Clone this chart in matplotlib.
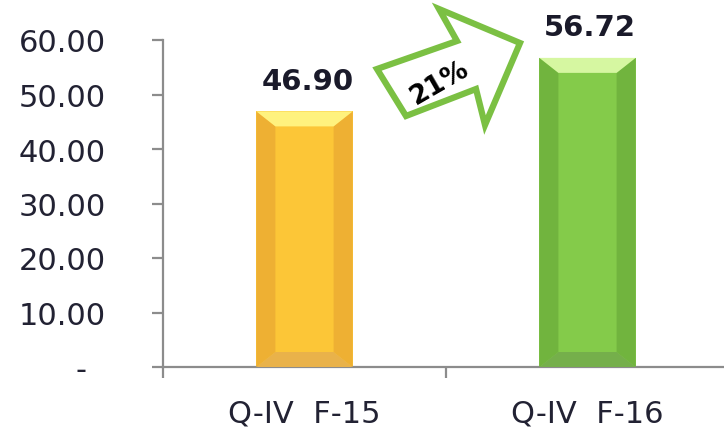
import matplotlib.pyplot as plt
from matplotlib.patches import Polygon

categories = ['Q-IV  F-15', 'Q-IV  F-16']
values = [46.90, 56.72]
value_labels = ['46.90', '56.72']
growth_label = '21%'
yticks = [0, 10, 20, 30, 40, 50, 60]
ytick_labels = ['-  ', '10.00', '20.00', '30.00', '40.00', '50.00', '60.00']

# center, side, top, bottom shades for each bar
bar_colors = [
    ('#fcc637', '#eeb033', '#fff27e', '#e9b24a'),
    ('#84cb4a', '#71b43e', '#d6f7a1', '#75af4b'),
]

W, H = 724, 431
fig = plt.figure(figsize=(W / 100, H / 100), dpi=100)
ax = fig.add_axes([163 / W, (H - 368) / H, (W - 163) / W, (368 - 41) / H])

xs = list(range(len(categories)))
bar_w = 0.34
bars = ax.bar(xs, values, width=bar_w, color=[c[0] for c in bar_colors], zorder=2)

# bevel sizes in data units (about 19 px wide, 15 px high)
bx = 19 / 283
by = 15 / (327 / 60)
for b, cols in zip(bars, bar_colors):
    x0 = b.get_x()
    x1 = x0 + b.get_width()
    h = b.get_height()
    side, top, bot = cols[1], cols[2], cols[3]
    ax.add_patch(Polygon([(x0, 0), (x0 + bx, by), (x0 + bx, h - by), (x0, h)], color=side, lw=0, zorder=3))
    ax.add_patch(Polygon([(x1, 0), (x1, h), (x1 - bx, h - by), (x1 - bx, by)], color=side, lw=0, zorder=3))
    ax.add_patch(Polygon([(x0, h), (x1, h), (x1 - bx, h - by), (x0 + bx, h - by)], color=top, lw=0, zorder=3))
    ax.add_patch(Polygon([(x0, 0), (x1, 0), (x1 - bx, by), (x0 + bx, by)], color=bot, lw=0, zorder=3))

for x, v, lab in zip(xs, values, value_labels):
    ax.annotate(lab, (x, v), xytext=(2, 12), textcoords='offset points',
                ha='center', va='bottom', fontsize=21, fontweight='bold', color='#1a1a2a')

ax.set_xlim(-0.5, -0.5 + (W - 163) / 283)
ax.set_ylim(0, 60)
for s in ['top', 'right']:
    ax.spines[s].set_visible(False)
for s in ['left', 'bottom']:
    ax.spines[s].set_color('#8c8c8c')
    ax.spines[s].set_linewidth(1.6)

ax.set_yticks(yticks)
ax.set_yticklabels(ytick_labels)
ax.tick_params(axis='y', direction='out', length=8, width=1.6, color='#8c8c8c',
               pad=33, labelsize=22, labelcolor='#222233')
ax.set_xticks(xs)
ax.set_xticklabels(categories)
ax.set_xticks([-0.5, 0.5], minor=True)
ax.tick_params(axis='x', which='major', length=0, pad=23, labelsize=22, labelcolor='#222233')
ax.tick_params(axis='x', which='minor', direction='out', length=8, width=1.6, color='#8c8c8c')

# growth arrow (figure pixel positions)
arrow_px = [(377, 70), (457, 42), (439, 10), (520, 44), (485, 126), (476, 90), (406, 117)]
arrow = Polygon([(px / W, 1 - py / H) for px, py in arrow_px], closed=True,
                transform=fig.transFigure, facecolor='white', edgecolor='#7bc043',
                lw=4.5, joinstyle='miter', zorder=5)
fig.patches.append(arrow)
fig.text(440 / W, 1 - 83 / H, growth_label, rotation=30, ha='center', va='center',
         fontsize=19, fontweight='bold', color='black', zorder=6)

fig.savefig('out.png', dpi=100)
